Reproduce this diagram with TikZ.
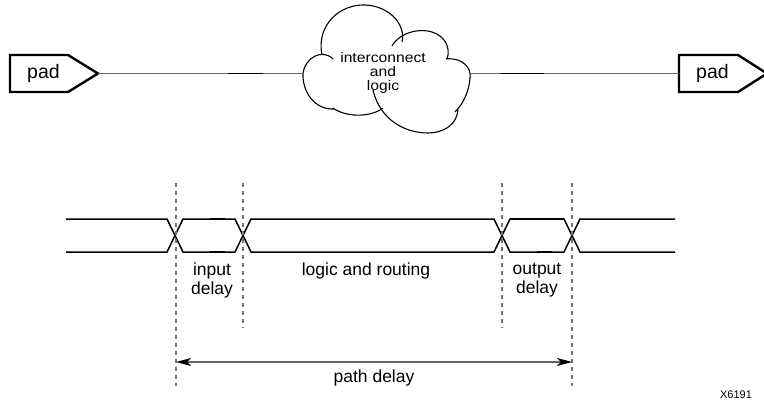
\documentclass[tikz,border=0pt]{standalone}
\usepackage{fontspec}
\setmainfont{Liberation Sans}
\newfontfamily\cloudfont[FakeStretch=1.12]{Liberation Sans}
\usetikzlibrary{arrows.meta}
\begin{document}
\begin{tikzpicture}[x=1pt,y=-1pt,
  padshape/.style={line width=2.4pt,line join=miter},
  wire/.style={line width=0.9pt,black!60},
  wirebold/.style={line width=1.8pt,black},
  cloudline/.style={line width=1.1pt,black},
  bus/.style={line width=1.5pt,black},
  busbold/.style={line width=2.6pt,black},
  guide/.style={line width=1.2pt,black!55,dash pattern=on 4pt off 4pt},
  lbl/.style={font=\fontsize{17.5}{19}\selectfont,align=center,inner sep=0pt},
  padlbl/.style={font=\fontsize{19.5}{21}\selectfont,inner sep=0pt},
  cloudlbl/.style={font=\cloudfont\fontsize{14}{14.2}\selectfont,align=center,inner sep=0pt},
  span/.style={line width=1.2pt,black!60,{Stealth[black,length=15pt,width=8pt,inset=4pt]}-{Stealth[black,length=15pt,width=8pt,inset=4pt]}}
]
\useasboundingbox (0,0) rectangle (764,407);
% pads
\draw[padshape] (10,55) -- (68,55) -- (98,73.5) -- (68,92) -- (10,92) -- cycle;
\node[padlbl] (padL) at (43.5,73) {pad};
\coordinate (padLtip) at (98,73.5);
\draw[padshape] (679,55) -- (738,55) -- (767,73.5) -- (738,92) -- (679,92) -- cycle;
\node[padlbl] (padR) at (712.5,73) {pad};
\coordinate (padRin) at (679,73.5);
% cloud
\coordinate (cloudW) at (303,73.5);
\coordinate (cloudE) at (470,73.5);
\draw[cloudline]
  (303,73) .. controls (305,58) and (322,48) .. (333,59)
  (322,55) .. controls (316,25) and (340,4) .. (365,5) .. controls (390,6) and (406,25) .. (402,42)
  (392,46) .. controls (400,32) and (420,28) .. (432,32) .. controls (445,36) and (451,48) .. (447,59)
  (446,59) .. controls (462,57) and (472,68) .. (470,78) .. controls (469,92) and (463,104) .. (455,112)
  (458,108) .. controls (458,125) and (443,133) .. (428,133) .. controls (405,133) and (380,120) .. (373,90)
  (333,108) .. controls (345,117) and (370,118) .. (383,108)
  (303,73) .. controls (302,92) and (315,110) .. (334,109);
\node[cloudlbl] (cloud) at (383,73) {interconnect\\and\\logic};
% wires
\draw[wire] (padLtip) -- (cloudW);
\draw[wire] (cloudE) -- (padRin);
\draw[wirebold] (228,73.5) -- (263,73.5);
\draw[wirebold] (501,73.5) -- (544,73.5);
% timing bus
\draw[bus,line join=miter] (66,219) -- (167,219) -- (183,252) -- (235,252) -- (251,219) -- (494,219) -- (510,252) -- (564,252) -- (580,219) -- (675,219);
\draw[bus,line join=miter] (66,252) -- (167,252) -- (183,219) -- (235,219) -- (251,252) -- (494,252) -- (510,219) -- (564,219) -- (580,252) -- (675,252);
\draw[busbold] (210,219) -- (225,219);
\draw[busbold] (210,252) -- (225,252);
\draw[line width=2pt] (510,219) -- (564,219);
\draw[busbold] (537,252) -- (552,252);
% guides
\foreach \n/\x/\yb in {a/176/386,b/243/328,c/502/328,d/572/386}{
  \coordinate (\n top) at (\x,183);
  \coordinate (\n bot) at (\x,\yb);
  \draw[guide] (\n top) -- (\n bot);
}
\coordinate (arrL) at (176,362);
\coordinate (arrR) at (572,362);
\draw[span] (arrL) -- (arrR);
% labels
\node[lbl] (inlbl) at (212,280) {input\\delay};
\node[lbl] (logiclbl) at (366,271) {logic and routing};
\node[lbl] (outlbl) at (537,280) {output\\delay};
\node[lbl] (pathlbl) at (374,378) {path delay};
\node[font=\fontsize{11}{13}\selectfont,inner sep=0pt] (fig) at (736,395) {X6191};
\end{tikzpicture}
\end{document}
